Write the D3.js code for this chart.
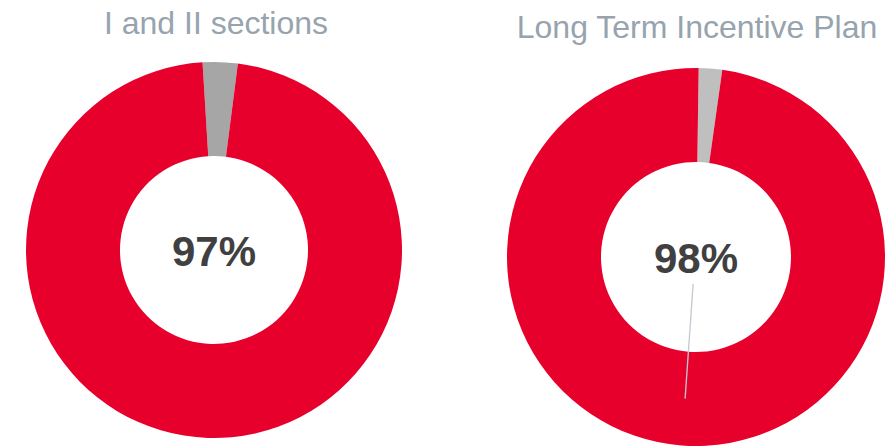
<!DOCTYPE html>
<html>
<head>
<meta charset="utf-8">
<script src="https://cdn.jsdelivr.net/npm/d3@7"></script>
<style>
  body { margin: 0; background: #fff; }
  svg { display: block; font-family: "Liberation Sans", Arial, sans-serif; }
</style>
</head>
<body>
<svg class="chart"></svg>
<script>
// data
var chartTitles = ["I and II sections", "Long Term Incentive Plan"];
var sliceNames = ["Other", "Approved"];
var approvedShare = [97, 98];
var otherShare = [3, 2];

var width = 895, height = 446;

// layout for each donut
var layout = [
  {cx: 214, cy: 250, outer: 188, inner: 94, start: -3.5, titleX: 216, titleY: 34, grey: "#a6a6a6", leader: false},
  {cx: 696, cy: 257, outer: 189, inner: 95, start: 0.8, titleX: 697, titleY: 38, grey: "#bfbfbf", leader: true}
];
var red = "#e8002d";

var chart = d3.select(".chart")
    .attr("width", width)
    .attr("height", height);

chartTitles.forEach(function(title, i) {
  var L = layout[i];
  var values = [otherShare[i], approvedShare[i]];
  var colour = d3.scaleOrdinal().domain(sliceNames).range([L.grey, red]);

  var pie = d3.pie()
      .sort(null)
      .value(function(d) { return d.v; })
      .startAngle(L.start * Math.PI / 180)
      .endAngle(L.start * Math.PI / 180 + 2 * Math.PI);

  var arc = d3.arc().innerRadius(L.inner).outerRadius(L.outer);

  var arcs = pie(values.map(function(v, j) { return {name: sliceNames[j], v: v}; }));

  var g = chart.append("g")
      .attr("transform", "translate(" + L.cx + "," + L.cy + ")");

  g.selectAll("path.slice")
      .data(arcs)
      .enter().append("path")
      .attr("class", "slice")
      .attr("d", arc)
      .attr("fill", function(d) { return colour(d.data.name); });

  // title
  chart.append("text")
      .attr("x", L.titleX)
      .attr("y", L.titleY)
      .attr("text-anchor", "middle")
      .attr("fill", "#97a3ad")
      .style("font-size", "32px")
      .text(title);

  // leader line from the approved slice into the hole
  if (L.leader) {
    var a = arcs[1];
    var c = arc.centroid(a);
    var mid = (a.startAngle + a.endAngle) / 2;
    g.append("line")
        .attr("x1", c[0]).attr("y1", c[1])
        .attr("x2", 27 * Math.sin(mid + 0.03)).attr("y2", -27 * Math.cos(mid + 0.03))
        .attr("stroke", "#c3c9d0")
        .attr("stroke-width", 1.3);
  }

  // centre percentage
  g.append("text")
      .attr("x", 0)
      .attr("y", 16)
      .attr("text-anchor", "middle")
      .attr("fill", "#404040")
      .style("font-size", "42px")
      .style("font-weight", "bold")
      .text(approvedShare[i] + "%");
});
</script>
</body>
</html>
